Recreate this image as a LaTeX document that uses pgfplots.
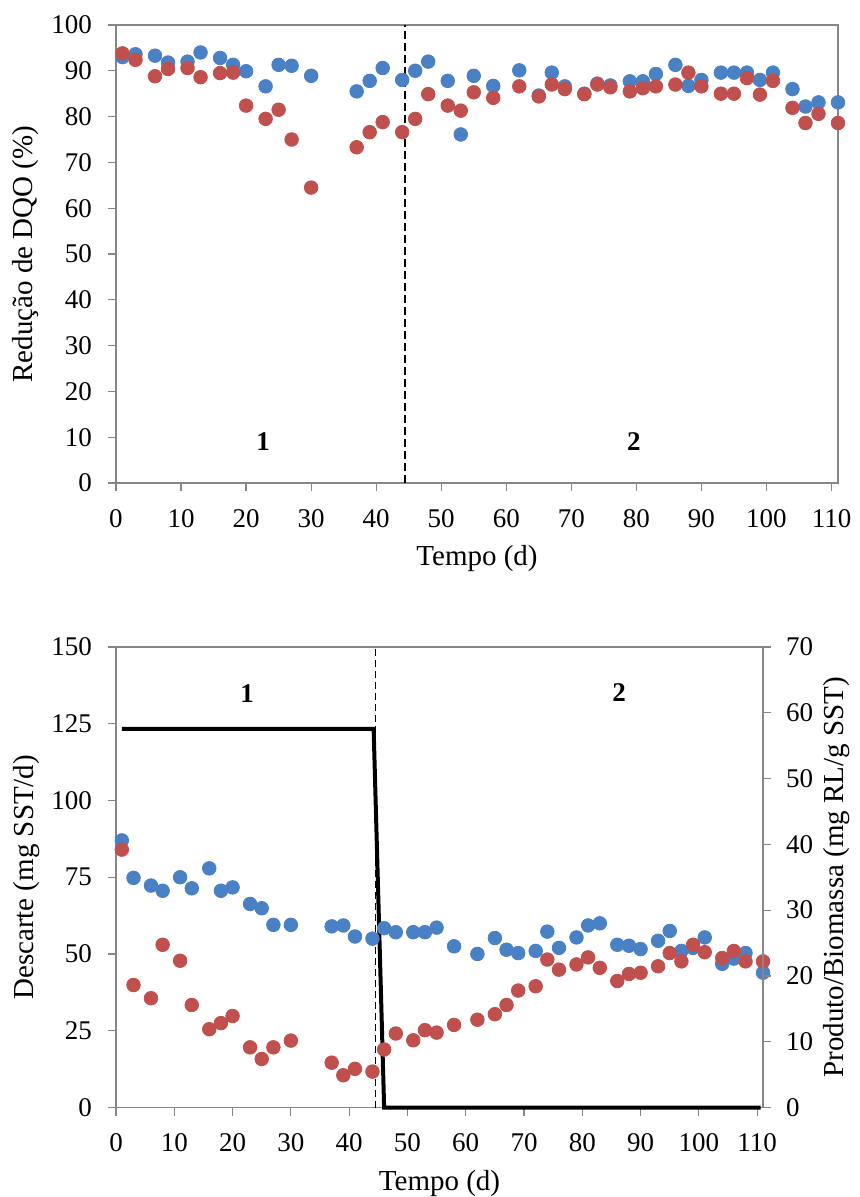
\documentclass[border=0pt]{standalone}
\usepackage{fontspec}
\setmainfont{Liberation Serif}
\usepackage{pgfplots}
\pgfplotsset{compat=1.18}
\definecolor{cblue}{HTML}{4A80C4}
\definecolor{cred}{HTML}{C0504D}
\definecolor{axgray}{HTML}{868686}

\pgfplotstableread{
d blue red
1 93.0 93.8
3 93.6 92.4
6 93.3 88.8
8 91.8 90.4
11 92.0 90.6
13 94.0 88.6
16 92.8 89.5
18 91.3 89.6
20 89.9 82.4
23 86.6 79.5
25 91.3 81.5
27 91.1 75.0
30 88.9 64.5
37 85.5 73.3
39 87.8 76.6
41 90.6 78.8
44 88.0 76.6
46 90.0 79.5
48 92.0 84.9
51 87.8 82.4
53 76.1 81.3
55 88.9 85.3
58 86.7 84.1
62 90.1 86.6
65 84.6 84.4
67 89.6 87.0
69 86.6 86.0
72 85.0 84.9
74 87.2 87.0
76 86.8 86.4
79 87.7 85.5
81 87.7 86.2
83 89.3 86.6
86 91.3 87.0
88 86.7 89.6
90 88.0 86.6
93 89.6 85.0
95 89.6 85.0
97 89.6 88.4
99 88.0 84.8
101 89.6 87.8
104 86.0 81.9
106 82.2 78.6
108 83.1 80.6
111 83.1 78.6
}\toptable

\pgfplotstableread{
d blue red
1 87.0 84.0
3 74.8 39.9
6 72.3 35.6
8 70.6 53.0
11 75.0 47.8
13 71.4 33.4
16 77.9 25.5
18 70.6 27.5
20 71.7 29.8
23 66.3 19.6
25 64.9 15.8
27 59.5 19.6
30 59.5 21.8
37 59.0 14.6
39 59.3 10.5
41 55.7 12.6
44 55.0 11.7
46 58.4 18.9
48 57.1 24.1
51 57.1 21.9
53 57.1 25.2
55 58.6 24.4
58 52.5 26.9
62 50.0 28.6
65 55.2 30.4
67 51.4 33.4
69 50.3 38.1
72 51.0 39.5
74 57.3 48.2
76 52.0 44.9
79 55.4 46.6
81 59.3 48.9
83 60.0 45.5
86 53.0 41.2
88 52.7 43.5
90 51.6 43.9
93 54.3 46.0
95 57.5 50.3
97 51.0 47.6
99 52.0 53.0
101 55.4 50.6
104 46.8 48.7
106 48.5 51.0
108 50.3 47.6
111 43.9 47.6
}\bottable

\begin{document}
\begin{tikzpicture}[font=\fontsize{13.5}{16}\selectfont]
\pgfplotsset{
  every axis/.append style={
    scale only axis, xmin=0, xmax=111,
    axis line style={axgray, line width=0.6pt},
    tick style={axgray, line width=0.6pt},
    tick align=outside, major tick length=4pt,
    /pgf/number format/assume math mode=true,
    label style={font=\fontsize{14.5}{17}\selectfont},
    clip=false,
  },
  dotb/.style={only marks, mark=*, mark size=3.4pt, color=cblue},
  dotr/.style={only marks, mark=*, mark size=3.4pt, color=cred},
}

% ---------- top chart ----------
\begin{axis}[
  at={(0,0)}, anchor=south west,
  width=361pt, height=229pt,
  ymin=0, ymax=100,
  ytick={0,10,...,100}, xtick={0,10,...,110},
  xtick pos=bottom, ytick pos=left,
  xlabel={Tempo (d)}, ylabel={Redução de DQO (\%)},
  xlabel style={at={(axis description cs:0.5,-0.166)}, anchor=center},
  ylabel style={at={(axis description cs:-0.125,0.5)}, anchor=center},
  yticklabel style={xshift=-4.5pt},
  xticklabel style={yshift=-5.5pt},
]
\addplot[black, line width=1pt, dash pattern=on 4pt off 2pt] coordinates {(44.5,0) (44.5,100)};
\addplot[dotb] table[x=d, y=blue] {\toptable};
\addplot[dotr] table[x=d, y=red] {\toptable};
\node at (axis cs:22.6,9.1) {\textbf{1}};
\node at (axis cs:79.6,9.1) {\textbf{2}};
\end{axis}

% ---------- bottom chart ----------
\begin{axis}[
  at={(0,-312.25pt)}, anchor=south west,
  width=323.5pt, height=230.25pt,
  ymin=0, ymax=150,
  ytick={0,25,...,150}, xtick={0,10,...,110},
  xtick pos=bottom, ytick pos=left,
  xlabel={Tempo (d)}, ylabel={Descarte (mg SST/d)},
  xlabel style={at={(axis description cs:0.5,-0.165)}, anchor=center},
  ylabel style={at={(axis description cs:-0.138,0.5)}, anchor=center},
  yticklabel style={xshift=-4.5pt},
  xticklabel style={yshift=-5.5pt},
]
\addplot[black, line width=0.6pt, dash pattern=on 3.5pt off 2pt] coordinates {(44.5,0) (44.5,150)};
\addplot[dotb] table[x=d, y=blue] {\bottable};
\addplot[dotr] table[x=d, y=red] {\bottable};
\addplot[black, line width=2pt] coordinates {(1,123.3) (44.2,123.3) (46,0) (110.6,0)};
\node at (axis cs:22.5,134.9) {\textbf{1}};
\node at (axis cs:86.3,135.3) {\textbf{2}};
\end{axis}

\begin{axis}[
  at={(0,-312.25pt)}, anchor=south west,
  width=323.5pt, height=230.25pt,
  ymin=0, ymax=70,
  axis y line*=right, axis x line=none,
  ytick={0,10,...,70},
  ylabel={Produto/Biomassa (mg RL/g SST)},
  ylabel style={at={(axis description cs:1.113,0.5)}, anchor=center, rotate=0},
  yticklabel style={xshift=4pt},
]
\addplot[draw=none] coordinates {(0,0)};
\end{axis}

\pgfresetboundingbox
\path (-58pt,-357pt) rectangle (371.5pt,241.5pt);
\end{tikzpicture}
\end{document}
